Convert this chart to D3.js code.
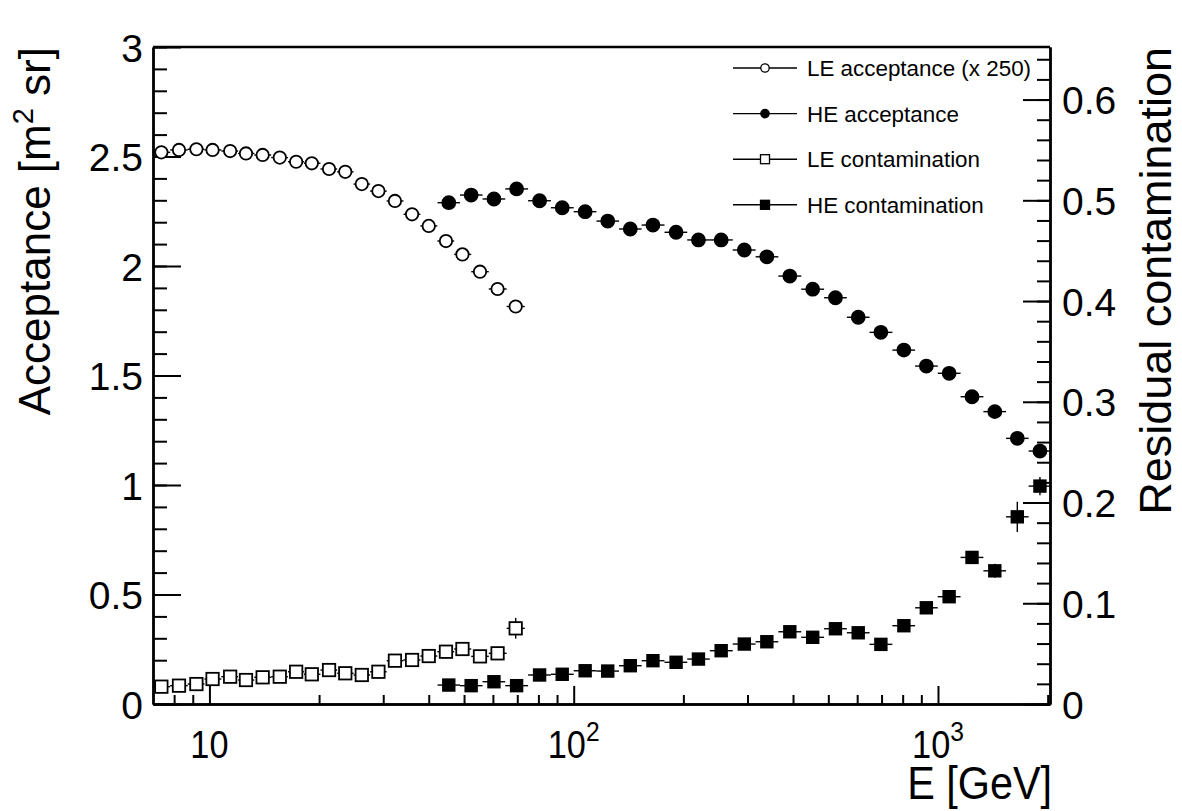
<!DOCTYPE html>
<meta charset="utf-8">
<style>
body { margin: 0; background: #fff; }
svg { font-family: "Liberation Sans", Arial, Helvetica, sans-serif; }
.axis path, .axis line { stroke: #000; }
.axis path { stroke-width: 2.4; }
.axis line { stroke-width: 2; }
</style>
<svg width="1182" height="811"></svg>
<script src="https://d3js.org/d3.v7.min.js"></script>
<script>

// LE (low energy) selection
var leEnergy = [7.38, 8.25, 9.21, 10.2, 11.4, 12.6, 14.0, 15.6, 17.3, 19.1, 21.3,
                23.6, 26.2, 29.1, 32.3, 36.0, 40.0, 44.6, 49.5, 55.3, 61.8, 69.3];
var leAcceptance = [2.519, 2.530, 2.533, 2.530, 2.525, 2.514, 2.507, 2.495, 2.476, 2.469, 2.443,
                    2.430, 2.374, 2.342, 2.297, 2.236, 2.183, 2.114, 2.053, 1.974, 1.895, 1.815];
var leContamination = [0.0172, 0.0182, 0.0198, 0.0248, 0.0271, 0.0238, 0.0265, 0.0271, 0.0320, 0.0295, 0.0337,
                       0.0305, 0.0288, 0.0320, 0.0430, 0.0437, 0.0476, 0.0519, 0.0546, 0.0473, 0.0503, 0.0751];
var leContaminationErr = [0.002, 0.002, 0.002, 0.002, 0.002, 0.002, 0.002, 0.002, 0.002, 0.002, 0.003,
                          0.003, 0.003, 0.003, 0.003, 0.003, 0.004, 0.004, 0.005, 0.005, 0.0066, 0.0103];

// HE (high energy) selection
var heEnergy = [45.4, 52.3, 60.4, 69.7, 80.6, 93.0, 107.5, 124, 143, 165, 191, 220, 254, 294,
                339, 392, 453, 523, 604, 697, 806, 929, 1073, 1240, 1432, 1651, 1905];
var heAcceptance = [2.289, 2.324, 2.306, 2.352, 2.298, 2.266, 2.248, 2.205, 2.169, 2.187, 2.154, 2.119, 2.119, 2.073,
                    2.042, 1.954, 1.894, 1.855, 1.766, 1.697, 1.616, 1.543, 1.510, 1.403, 1.335, 1.213, 1.155];
var heContamination = [0.0188, 0.0182, 0.0221, 0.0182, 0.0288, 0.0295, 0.0330, 0.0327, 0.0380, 0.0430, 0.0414, 0.0446, 0.0529, 0.0595,
                       0.0618, 0.0717, 0.0662, 0.0747, 0.0707, 0.0592, 0.0777, 0.0955, 0.1065, 0.1455, 0.1322, 0.1858, 0.2163];
var heContaminationErr = [0.002, 0.002, 0.002, 0.002, 0.002, 0.002, 0.002, 0.002, 0.002, 0.002, 0.002, 0.002, 0.003, 0.003,
                          0.003, 0.003, 0.003, 0.003, 0.003, 0.003, 0.004, 0.004, 0.005, 0.006, 0.007, 0.015, 0.009];

var xMajorTicks = [10, 100, 1000];
var xMinorTicks = [8, 9, 20, 30, 40, 50, 60, 70, 80, 90, 200, 300, 400, 500, 600, 700, 800, 900, 2000];
var yLeftTicks = [0, 0.5, 1, 1.5, 2, 2.5, 3];
var yRightTicks = [0, 0.1, 0.2, 0.3, 0.4, 0.5, 0.6];

var legendLabels = ["LE acceptance (x 250)", "HE acceptance", "LE contamination", "HE contamination"];

var svg = d3.select("svg"),
    margin = {top: 47, right: 132, bottom: 107, left: 153},
    width = +svg.attr("width") - margin.left - margin.right,
    height = +svg.attr("height") - margin.top - margin.bottom;

svg.append("rect").attr("width", 1182).attr("height", 811).attr("fill", "#fff");

var x = d3.scaleLog().domain([7, 2030]).range([0, width]),
    y = d3.scaleLinear().domain([0, 3]).range([height, 0]),
    yR = d3.scaleLinear().domain([0, 3 / 4.6]).range([height, 0]);

var g = svg.append("g")
    .attr("transform", "translate(" + margin.left + "," + margin.top + ")");

// frame top line
g.append("line").attr("x1", 0).attr("x2", width).attr("y1", 0).attr("y2", 0)
    .attr("stroke", "#000").attr("stroke-width", 2.4);

// x axis
g.append("g").attr("class", "axis")
    .attr("transform", "translate(0," + height + ")")
    .call(d3.axisBottom(x).tickValues(xMinorTicks).tickSizeInner(-9).tickSizeOuter(0).tickFormat(""));
g.append("g").attr("class", "axis")
    .attr("transform", "translate(0," + height + ")")
    .call(d3.axisBottom(x).tickValues(xMajorTicks).tickSizeInner(-18).tickSizeOuter(0).tickFormat(""));

g.selectAll(".xlab")
  .data(xMajorTicks)
  .enter().append("text")
    .attr("class", "xlab")
    .attr("transform", function(d) { return "translate(" + x(d) + "," + (height + 54) + ") scale(0.88,1)"; })
    .attr("text-anchor", "middle")
    .attr("font-size", 39)
    .each(function(d) {
      var t = d3.select(this);
      var p = Math.round(Math.log10(d));
      if (p === 1) { t.text("10"); return; }
      t.append("tspan").text("10");
      t.append("tspan").attr("font-size", 28).attr("dy", -17).text(p);
    });

g.append("text")
    .attr("transform", "translate(" + (width + 2) + "," + (height + 95) + ") scale(0.88,1)")
    .attr("text-anchor", "end")
    .attr("font-size", 47)
    .text("E [GeV]");

// left axis
g.append("g").attr("class", "axis")
    .call(d3.axisLeft(y).ticks(30).tickSizeInner(-14).tickSizeOuter(0).tickFormat(""));
var yl = g.append("g").attr("class", "axis")
    .call(d3.axisLeft(y).tickValues(yLeftTicks).tickSizeInner(-28).tickSizeOuter(0)
      .tickFormat(function(d) { return d; }));
yl.selectAll("text").attr("font-size", 39).attr("fill", "#000")
    .attr("font-family", "Liberation Sans, Arial, sans-serif").attr("x", -10).attr("dy", "0.36em");

var ylt = g.append("text")
    .attr("transform", "translate(-103,0) rotate(-90)")
    .attr("text-anchor", "end")
    .attr("font-size", 44);
ylt.append("tspan").text("Acceptance [m");
ylt.append("tspan").attr("font-size", 29).attr("dy", -17).text("2");
ylt.append("tspan").attr("dy", 17).text(" sr]");

// right axis
var gr = g.append("g").attr("transform", "translate(" + width + ",0)");
gr.append("g").attr("class", "axis")
    .call(d3.axisRight(yR).ticks(32).tickSizeInner(-13).tickSizeOuter(0).tickFormat(""));
var yr = gr.append("g").attr("class", "axis")
    .call(d3.axisRight(yR).tickValues(yRightTicks).tickSizeInner(-27).tickSizeOuter(0)
      .tickFormat(function(d) { return d; }));
yr.selectAll("text").attr("font-size", 39).attr("fill", "#000")
    .attr("font-family", "Liberation Sans, Arial, sans-serif").attr("x", 12).attr("dy", "0.36em");

gr.append("text")
    .attr("transform", "translate(121,0) rotate(-90)")
    .attr("text-anchor", "end")
    .attr("font-size", 45)
    .text("Residual contamination");

// bin edges from neighbouring centres (log midpoints)
function edges(e) {
  return e.map(function(v, i) {
    var lo = i > 0 ? Math.sqrt(e[i - 1] * v) : v * v / Math.sqrt(v * e[i + 1]);
    var hi = i < e.length - 1 ? Math.sqrt(v * e[i + 1]) : v * v / Math.sqrt(e[i - 1] * v);
    return [lo, hi];
  });
}

function series(energy, values, errs, scale, shape, filled) {
  var ed = edges(energy);
  var data = energy.map(function(e, i) {
    return {e: e, v: values[i], err: errs ? errs[i] : 0, lo: ed[i][0], hi: ed[i][1]};
  });
  var s = g.append("g");
  s.selectAll(".hbar").data(data).enter().append("line")
      .attr("x1", function(d) { return x(d.lo); })
      .attr("x2", function(d) { return x(d.hi); })
      .attr("y1", function(d) { return scale(d.v); })
      .attr("y2", function(d) { return scale(d.v); })
      .attr("stroke", "#000").attr("stroke-width", 1.4);
  s.selectAll(".vbar").data(data).enter().append("line")
      .attr("x1", function(d) { return x(d.e); })
      .attr("x2", function(d) { return x(d.e); })
      .attr("y1", function(d) { return scale(d.v - d.err); })
      .attr("y2", function(d) { return scale(d.v + d.err); })
      .attr("stroke", "#000").attr("stroke-width", 1.4);
  var m = s.selectAll(".mk").data(data).enter();
  if (shape === "circle") {
    m.append("circle")
      .attr("cx", function(d) { return x(d.e); })
      .attr("cy", function(d) { return scale(d.v); })
      .attr("r", filled ? 6.5 : 6.2)
      .attr("fill", filled ? "#000" : "#fff")
      .attr("stroke", "#000").attr("stroke-width", 1.8);
  } else {
    var h = filled ? 5.8 : 6.2;
    m.append("rect")
      .attr("x", function(d) { return x(d.e) - h; })
      .attr("y", function(d) { return scale(d.v) - h; })
      .attr("width", 2 * h).attr("height", 2 * h)
      .attr("fill", filled ? "#000" : "#fff")
      .attr("stroke", "#000").attr("stroke-width", 1.8);
  }
}

series(leEnergy, leAcceptance, null, y, "circle", false);
series(heEnergy, heAcceptance, null, y, "circle", true);
series(leEnergy, leContamination, leContaminationErr, yR, "rect", false);
series(heEnergy, heContamination, heContaminationErr, yR, "rect", true);

// legend
var legendShapes = [["circle", false], ["circle", true], ["rect", false], ["rect", true]];
var lg = svg.append("g").attr("transform", "translate(733,68)");
var row = lg.selectAll(".row").data(legendLabels).enter().append("g")
    .attr("transform", function(d, i) { return "translate(0," + (i * 45.6) + ")"; });
row.append("line").attr("x1", 0).attr("x2", 64).attr("stroke", "#000").attr("stroke-width", 1.4);
row.each(function(d, i) {
  var r = d3.select(this), sh = legendShapes[i];
  if (sh[0] === "circle") {
    r.append("circle").attr("cx", 32).attr("r", 4.2)
      .attr("fill", sh[1] ? "#000" : "#fff").attr("stroke", "#000").attr("stroke-width", 1.3);
  } else {
    r.append("rect").attr("x", 27.5).attr("y", -4.5).attr("width", 9).attr("height", 9)
      .attr("fill", sh[1] ? "#000" : "#fff").attr("stroke", "#000").attr("stroke-width", 1.3);
  }
});
row.append("text").attr("x", 74).attr("dy", "0.36em").attr("font-size", 22.4).text(function(d) { return d; });

</script>
